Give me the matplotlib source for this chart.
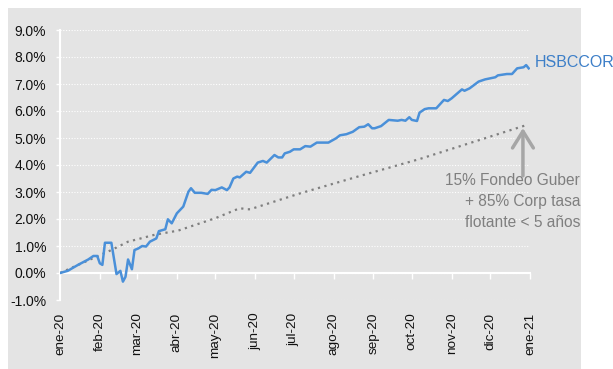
import numpy as np
import pandas as pd
import matplotlib
matplotlib.use('Agg')
import matplotlib.pyplot as plt
from matplotlib.patches import Rectangle

plt.rcParams['font.family'] = ['Liberation Sans', 'DejaVu Sans']

## Data: cumulative return (%), x = days since 1-ene-2020

start = pd.Timestamp('2020-01-01')
month_labels = ['ene-20', 'feb-20', 'mar-20', 'abr-20', 'may-20', 'jun-20', 'jul-20',
                'ago-20', 'sep-20', 'oct-20', 'nov-20', 'dic-20', 'ene-21']

hsbc_days = [0, 6, 14, 22, 26, 29, 31, 33, 35, 40, 44, 47, 49, 51, 53, 56, 58, 61,
             64, 67, 70, 75, 77, 82, 84, 87, 91, 96, 100, 102, 105, 110, 115, 118,
             121, 126, 130, 132, 135, 138, 140, 145, 148, 154, 158, 161, 167, 170,
             173, 175, 179, 182, 187, 191, 195, 200, 209, 215, 218, 223, 228, 233,
             237, 240, 243, 245, 250, 256, 263, 266, 269, 272, 274, 278, 280, 284,
             287, 293, 299, 302, 305, 313, 315, 319, 326, 331, 339, 341, 348, 352,
             356, 361, 363, 365]
hsbc_pct = [0.00, 0.08, 0.30, 0.50, 0.63, 0.63, 0.36, 0.30, 1.12, 1.12, -0.04, 0.08,
            -0.32, -0.14, 0.50, 0.14, 0.85, 0.91, 1.00, 0.98, 1.16, 1.28, 1.55, 1.62,
            1.99, 1.84, 2.21, 2.46, 3.01, 3.14, 2.97, 2.97, 2.93, 3.08, 3.07, 3.17,
            3.07, 3.17, 3.50, 3.57, 3.54, 3.75, 3.71, 4.09, 4.15, 4.09, 4.37, 4.28,
            4.28, 4.43, 4.49, 4.58, 4.58, 4.70, 4.68, 4.83, 4.83, 4.99, 5.10, 5.14,
            5.23, 5.40, 5.42, 5.51, 5.36, 5.36, 5.44, 5.67, 5.64, 5.67, 5.64, 5.77,
            5.67, 5.63, 5.94, 6.07, 6.10, 6.10, 6.41, 6.37, 6.47, 6.80, 6.75, 6.84,
            7.09, 7.17, 7.25, 7.32, 7.37, 7.37, 7.58, 7.62, 7.70, 7.58]

bench_days = [0, 40, 53, 62, 74, 92, 121, 140, 146, 148, 187, 234, 280, 362]
bench_pct = [0.00, 0.85, 1.16, 1.27, 1.42, 1.57, 2.03, 2.40, 2.36, 2.36, 2.95, 3.60,
             4.22, 5.46]

month_days = list((pd.date_range('2020-01-01', '2021-01-01', freq='MS') - start).days)

## Plot

bg = '#e4e4e4'
fig = plt.figure(figsize=(6.13, 3.69), dpi=100)
fig.patches.append(Rectangle((8 / 613, 0), 573 / 613, 361 / 369, transform=fig.transFigure,
                             facecolor=bg, edgecolor='none', zorder=-10))
ax = fig.add_axes([60 / 613, 69 / 369, 470 / 613, 270 / 369])
ax.set_facecolor(bg)

ax.set_xlim(0, month_days[-1])
ax.set_ylim(-1, 9)
ax.set_yticks(np.arange(-1, 10, 1))
ax.set_yticklabels(['%.1f%%' % v for v in np.arange(-1, 10, 1)])
ax.yaxis.grid(True, color='white', linestyle=(0, (1, 1.5)), linewidth=0.8)
ax.set_axisbelow(True)

for s in ['top', 'right']:
    ax.spines[s].set_visible(False)
ax.spines['left'].set_color('white')
ax.spines['left'].set_linewidth(1.5)
ax.spines['bottom'].set_position(('data', 0))
ax.spines['bottom'].set_color('white')
ax.spines['bottom'].set_linewidth(1.5)

ax.set_xticks(month_days)
ax.tick_params(axis='x', direction='out', length=4, width=1, color='white', labelbottom=False)
ax.tick_params(axis='y', direction='out', length=3, width=1, color='white', pad=7,
               labelsize=10, labelcolor='#111111')

# month labels sit under the plot area, not on the zero line
sec = ax.secondary_xaxis('bottom')
sec.set_xticks(month_days)
sec.set_xticklabels(month_labels, rotation=90, fontsize=9.7, color='#111111')
sec.tick_params(length=0, pad=9)
sec.spines['bottom'].set_visible(False)

ax.plot(bench_days, bench_pct, color='#7f7f7f', linewidth=1.6, linestyle=(0, (1, 2)), zorder=3)
ax.plot(hsbc_days, hsbc_pct, color='#4a90d9', linewidth=1.8, zorder=4)

ax.text(369.5, 7.8, 'HSBCCOR', color='#3d7fc8', fontsize=11.5, va='center', ha='left',
        clip_on=False)

ax.annotate('', xy=(360.5, 5.37), xytext=(360.5, 3.6),
            arrowprops=dict(arrowstyle='->,head_length=0.8,head_width=0.5', color='#a6a6a6',
                            lw=2.5, mutation_scale=15, shrinkA=0, shrinkB=0),
            annotation_clip=False)
ax.text(405, 3.7, '15% Fondeo Guber\n+ 85% Corp tasa\nflotante < 5 años', color='#7f7f7f',
        fontsize=11.2, ha='right', va='top', multialignment='right', linespacing=1.5,
        clip_on=False)

plt.savefig('out.png', dpi=100)
